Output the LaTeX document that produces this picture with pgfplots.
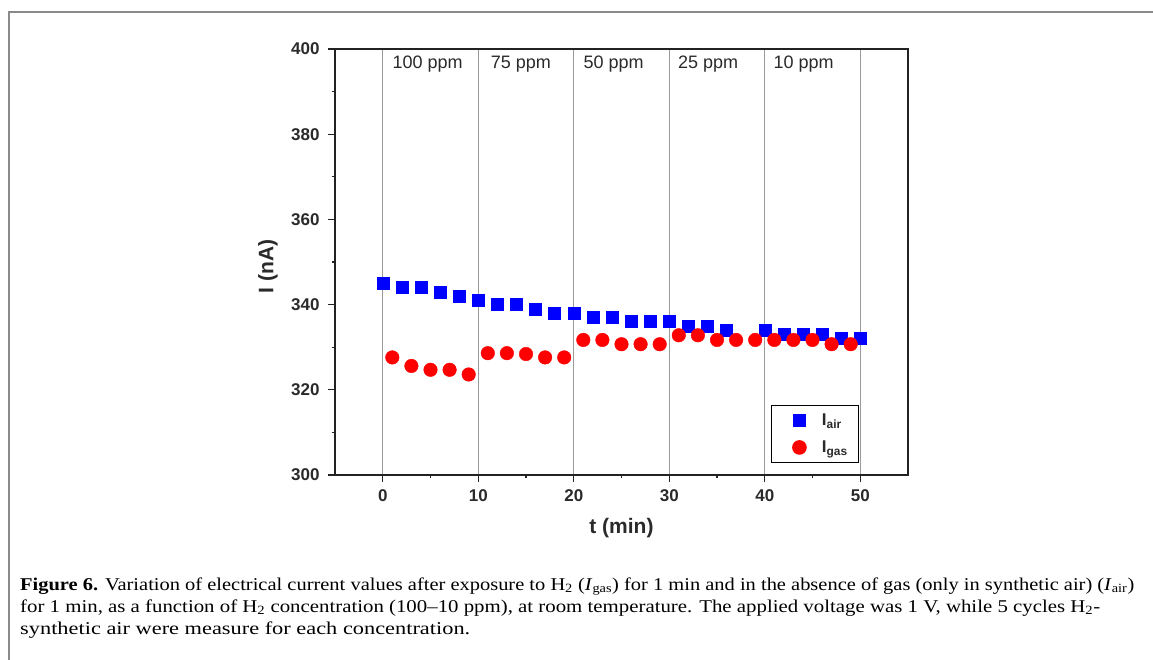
\documentclass[border=0pt]{standalone}
\usepackage{fontspec}
\setmainfont{Liberation Serif}
\newfontfamily\arial{Liberation Sans}
\usepackage{graphicx}
\usepackage{pgfplots}
\usepackage{pgfplotstable}
\pgfplotsset{compat=1.18}
\definecolor{axgray}{HTML}{222222}
\definecolor{txgray}{HTML}{2A2A2A}
\definecolor{gridgray}{HTML}{9A9A9A}
\definecolor{framegray}{HTML}{8A8A8A}

\pgfplotstableread{
x y
0 345
2 344
4 344
6 343
8 342
10 341
12 340
14 340
16 339
18 338
20 338
22 337
24 337
26 336
28 336
30 336
32 335
34 335
36 334
40 334
42 333
44 333
46 333
48 332
50 332
}\airtable

\pgfplotstableread{
x y
1 327.6
3 325.6
5 324.7
7 324.7
9 323.6
11 328.6
13 328.6
15 328.4
17 327.6
19 327.6
21 331.7
23 331.7
25 330.7
27 330.7
29 330.7
31 332.8
33 332.8
35 331.7
37 331.7
39 331.7
41 331.7
43 331.7
45 331.7
47 330.7
49 330.7
}\gastable

\begin{document}
\begin{tikzpicture}
\path[use as bounding box] (0pt,0pt) rectangle (1153pt,659pt);
\draw[framegray, line width=2pt] (9pt,-30pt) -- (9pt,647pt) -- (1200pt,647pt);
\begin{axis}[
  at={(335pt,184pt)}, anchor=south west,
  scale only axis, width=573pt, height=426pt,
  xmin=-5, xmax=55, ymin=300, ymax=400,
  xtick={0,10,...,50}, ytick={300,320,...,400},
  minor x tick num=1, minor y tick num=1,
  xtick pos=lower, ytick pos=left,
  tick align=outside,
  major tick length=7pt, minor tick length=3pt,
  axis line style={axgray, line width=1.4pt},
  every tick/.style={axgray, line width=1.2pt},
  xmajorgrids=true,
  major grid style={gridgray, line width=1.3pt},
  /pgf/number format/assume math mode=true,
  ticklabel style={font=\arial\bfseries\fontsize{17}{19}\selectfont, text=txgray},
  xticklabel style={yshift=-4pt},
  yticklabel style={xshift=-5pt},
  xlabel={t (min)}, ylabel={I (nA)},
  every axis x label/.style={at={(axis cs:25,300)}, yshift=-53pt, anchor=center,
    font=\arial\bfseries\fontsize{21}{24}\selectfont, text=txgray},
  every axis y label/.style={at={(axis cs:-5,349)}, xshift=-67pt, rotate=90, anchor=center,
    font=\arial\bfseries\fontsize{21}{24}\selectfont, text=txgray},
  legend style={at={(axis cs:40.7,316.4)}, anchor=north west, draw=black, line width=1pt,
    fill=white, inner xsep=9pt, inner ysep=6pt, row sep=10pt,
    font=\arial\bfseries\fontsize{17}{19}\selectfont, text=txgray,
    /tikz/every odd column/.append style={column sep=12pt}},
  legend cell align=left,
  legend image code/.code={\path (-18pt,0pt) (8pt,0pt); \draw[#1] plot coordinates {(0pt,0pt)};},
]
\addplot[only marks, mark=square*, mark size=6pt, color=blue, fill=blue] table[x=x,y=y] {\airtable};
\addlegendentry{I\textsubscript{air}}
\addplot[only marks, mark=*, mark size=6.8pt, color=red, fill=red] table[x=x,y=y] {\gastable};
\addlegendentry{I\textsubscript{gas}}
\begin{scope}[every node/.style={anchor=base west, font=\arial\fontsize{18}{20}\selectfont, text=txgray, inner sep=0pt}]
\node at (axis cs:1.0,395.5) {100 ppm};
\node at (axis cs:11.3,395.5) {75 ppm};
\node at (axis cs:21.0,395.5) {50 ppm};
\node at (axis cs:30.9,395.5) {25 ppm};
\node at (axis cs:40.9,395.5) {10 ppm};
\end{scope}
\end{axis}
\begin{scope}[every node/.style={anchor=base west, inner sep=0pt, font=\fontsize{18}{21}\selectfont}]
\node at (20pt,69pt) {\resizebox{1114pt}{\height}{\textbf{Figure 6.} Variation of electrical current values after exposure to H\textsubscript{2} (\textit{I}\textsubscript{gas}) for 1 min and in the absence of gas (only in synthetic air) (\textit{I}\textsubscript{air})}};
\node at (20pt,47pt) {\resizebox{1080pt}{\height}{for 1 min, as a function of H\textsubscript{2} concentration (100--10 ppm), at room temperature. The applied voltage was 1 V, while 5 cycles H\textsubscript{2}-}};
\node at (20pt,25pt) {\resizebox{450pt}{\height}{synthetic air were measure for each concentration.}};
\end{scope}
\end{tikzpicture}
\end{document}
